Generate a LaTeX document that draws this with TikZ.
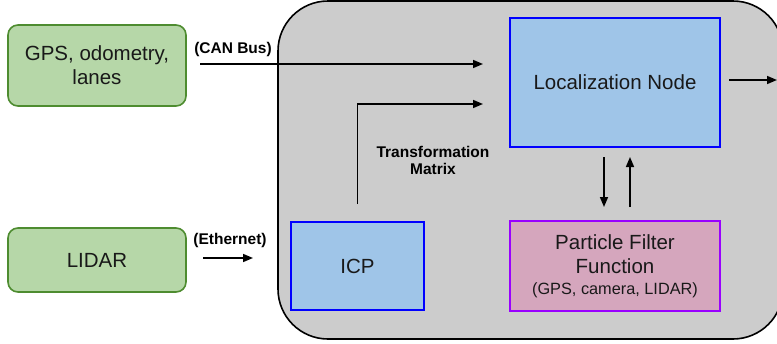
\documentclass[tikz,border=0pt]{standalone}
\usepackage{fontspec}
\setmainfont{Liberation Sans}
\usetikzlibrary{arrows.meta}
\definecolor{srcfill}{HTML}{B6D7A8}
\definecolor{srcline}{HTML}{4E8C30}
\definecolor{procfill}{HTML}{9FC5E8}
\definecolor{procline}{HTML}{0000FF}
\definecolor{pffill}{HTML}{D5A6BD}
\definecolor{pfline}{HTML}{9900FF}
\definecolor{hostfill}{HTML}{CCCCCC}
\tikzset{
  srcbox/.style={draw=srcline, fill=srcfill, line width=1.6pt, rounded corners=10pt,
    minimum width=178pt, align=center, font=\fontsize{20.5}{24}\selectfont, text=black!90},
  procbox/.style={draw=procline, fill=procfill, line width=1.6pt,
    align=center, font=\fontsize{20.5}{24}\selectfont, text=black!90},
  pfbox/.style={draw=pfline, fill=pffill, line width=1.6pt,
    align=center, font=\fontsize{20.5}{24}\selectfont, text=black!90},
  lbl/.style={font=\fontsize{15.5}{17}\selectfont\bfseries, align=center, inner sep=0pt},
  flow/.style={line width=1.6pt, -{Triangle[length=10pt,width=8pt]}},
}
\begin{document}
\begin{tikzpicture}[x=1pt,y=-1pt]
\useasboundingbox (0,0) rectangle (777,343);

% host computer enclosure
\draw[fill=hostfill, line width=1.6pt, rounded corners=50pt] (278,1) rectangle (783,339);

% sensor sources
\node[srcbox, minimum height=81pt] (gps) at (97,65.5) {GPS, odometry,\\lanes};
\node[srcbox, minimum height=64pt] (lidar) at (97,260) {LIDAR};

% processing blocks
\node[procbox, minimum width=210pt, minimum height=129pt] (loc) at (615,82.5) {Localization Node};
\node[procbox, minimum width=133pt, minimum height=88pt] (icp) at (357.5,266) {ICP};
\node[pfbox, minimum width=210pt, minimum height=90pt] (pf) at (615,266)
  {Particle Filter\\Function\\[-3pt]{\fontsize{16.3}{18}\selectfont (GPS, camera, LIDAR)}};

% connector end points
\coordinate (canA) at (200,64);
\coordinate (canB) at (483,64);
\coordinate (ethA) at (203,258);
\coordinate (ethB) at (253,258);
\coordinate (tmA) at (357.5,204);
\coordinate (tmB) at (483,104);
\coordinate (outA) at (729,80);
\coordinate (outB) at (777,80);
\coordinate (dnA) at (604,157);
\coordinate (dnB) at (604,207);
\coordinate (upA) at (630,207);
\coordinate (upB) at (630,157);

% data flows
\draw[flow] (canA) -- (canB);
\draw[flow] (ethA) -- (ethB);
\draw[flow] (tmA) |- (tmB);
\draw[flow] (outA) -- (outB);
\draw[flow] (dnA) -- (dnB);
\draw[flow] (upA) -- (upB);

% link labels
\node[lbl] (canlbl) at (233,49) {(CAN Bus)};
\node[lbl] (ethlbl) at (230,240) {(Ethernet)};
\node[lbl] (tmlbl) at (433,160) {Transformation\\Matrix};
\end{tikzpicture}
\end{document}
